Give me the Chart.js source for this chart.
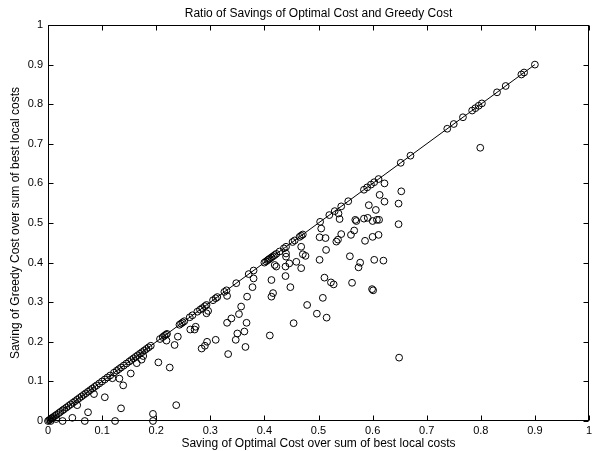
<!DOCTYPE html>
<html>
<head>
<meta charset="utf-8">
<script src="https://cdn.jsdelivr.net/npm/chart.js@4.4.1/dist/chart.umd.min.js"></script>
<style>
  html, body { margin: 0; padding: 0; background: #fff; }
  canvas { display: block; }
</style>
</head>
<body>
<canvas id="c" width="594" height="451"></canvas>
<script>
// ---- Data ----
const chartTitle = 'Ratio of Savings of Optimal Cost and Greedy Cost';
const xAxisTitle = 'Saving of Optimal Cost over sum of best local costs';
const yAxisTitle = 'Saving of Greedy Cost over sum of best local costs';
const xTickLabels = ['0','0.1','0.2','0.3','0.4','0.5','0.6','0.7','0.8','0.9','1'];
const yTickLabels = ['0','0.1','0.2','0.3','0.4','0.5','0.6','0.7','0.8','0.9','1'];

// reference line (greedy == optimal)
const lineX = [0, 0.9];
const lineY = [0, 0.9];

// points lying on the line
const onLineX = [0,0.002,0.004,0.006,0.008,0.01,0.013,0.016,0.02,0.023,0.027,0.03,0.034,0.038,0.042,0.046,0.05,0.054,0.058,0.062,0.066,0.07,0.074,0.078,0.082,0.086,0.09,0.095,0.1,0.105,0.11,0.115,0.122,0.127,0.131,0.135,0.14,0.145,0.15,0.154,0.158,0.162,0.166,0.17,0.174,0.178,0.182,0.186,0.19,0.207,0.212,0.215,0.218,0.22,0.243,0.246,0.249,0.252,0.262,0.267,0.276,0.281,0.285,0.29,0.293,0.305,0.31,0.313,0.326,0.33,0.348,0.371,0.38,0.4,0.403,0.406,0.408,0.41,0.413,0.416,0.419,0.422,0.428,0.436,0.44,0.452,0.456,0.465,0.468,0.471,0.503,0.52,0.53,0.542,0.555,0.584,0.59,0.597,0.603,0.611,0.652,0.67,0.738,0.75,0.767,0.784,0.79,0.796,0.802,0.83,0.846,0.875,0.88,0.9];
const onLineY = [0,0.002,0.004,0.006,0.008,0.01,0.013,0.016,0.02,0.023,0.027,0.03,0.034,0.038,0.042,0.046,0.05,0.054,0.058,0.062,0.066,0.07,0.074,0.078,0.082,0.086,0.09,0.095,0.1,0.105,0.11,0.115,0.122,0.127,0.131,0.135,0.14,0.145,0.15,0.154,0.158,0.162,0.166,0.17,0.174,0.178,0.182,0.186,0.19,0.207,0.212,0.215,0.218,0.22,0.243,0.246,0.249,0.252,0.262,0.267,0.276,0.281,0.285,0.29,0.293,0.305,0.31,0.313,0.326,0.33,0.348,0.371,0.38,0.4,0.403,0.406,0.408,0.41,0.413,0.416,0.419,0.422,0.428,0.436,0.44,0.452,0.456,0.465,0.468,0.471,0.503,0.52,0.53,0.542,0.555,0.584,0.59,0.597,0.603,0.611,0.652,0.67,0.738,0.75,0.767,0.784,0.79,0.796,0.802,0.83,0.846,0.875,0.88,0.9];

// points below the line
const belowX = [0.005,0.015,0.027,0.045,0.068,0.074,0.124,0.135,0.054,0.085,0.105,0.119,0.132,0.139,0.153,0.164,0.173,0.176,0.194,0.194,0.204,0.225,0.237,0.24,0.234,0.219,0.263,0.271,0.273,0.293,0.296,0.284,0.29,0.294,0.31,0.333,0.331,0.339,0.347,0.35,0.353,0.357,0.363,0.365,0.367,0.368,0.331,0.378,0.38,0.41,0.413,0.416,0.413,0.439,0.448,0.419,0.422,0.439,0.446,0.459,0.468,0.44,0.44,0.471,0.476,0.468,0.454,0.479,0.497,0.515,0.508,0.502,0.511,0.523,0.528,0.514,0.502,0.513,0.533,0.536,0.542,0.505,0.539,0.537,0.558,0.562,0.577,0.574,0.599,0.601,0.603,0.62,0.56,0.566,0.586,0.6,0.611,0.568,0.57,0.584,0.591,0.6,0.608,0.612,0.593,0.606,0.613,0.622,0.622,0.648,0.648,0.653,0.649,0.799];
const belowY = [0,0.005,0,0.008,0,0.022,0,0.032,0.04,0.068,0.06,0.108,0.107,0.09,0.12,0.146,0.155,0.164,0.018,0,0.148,0.135,0.04,0.213,0.192,0.203,0.231,0.231,0.238,0.272,0.278,0.183,0.19,0.2,0.205,0.169,0.248,0.259,0.205,0.221,0.27,0.289,0.226,0.187,0.248,0.314,0.316,0.338,0.36,0.216,0.314,0.323,0.356,0.366,0.338,0.394,0.39,0.39,0.398,0.402,0.386,0.415,0.423,0.421,0.417,0.44,0.247,0.293,0.271,0.261,0.311,0.407,0.362,0.35,0.345,0.432,0.464,0.462,0.453,0.458,0.472,0.486,0.51,0.524,0.416,0.349,0.4,0.388,0.333,0.33,0.407,0.405,0.47,0.481,0.455,0.465,0.47,0.508,0.505,0.511,0.513,0.505,0.508,0.508,0.545,0.533,0.571,0.554,0.6,0.549,0.497,0.58,0.16,0.69];

// ---- Chart ----
Chart.defaults.font.family = '"Liberation Sans", Arial, Helvetica, sans-serif';
Chart.defaults.color = '#000';

const toPts = (xs, ys) => xs.map((v, i) => ({ x: v, y: ys[i] }));

const boxPlugin = {
  id: 'matlabBox',
  afterDatasetsDraw(chart) {
    const { ctx, chartArea: a, scales } = chart;
    const L = Math.round(a.left) + 0.5, R = Math.round(a.right) - 0.5;
    const T = Math.round(a.top) + 0.5, B = Math.round(a.bottom) - 0.5;
    const tl = 5;
    ctx.save();
    ctx.strokeStyle = '#000';
    ctx.lineWidth = 1;
    ctx.strokeRect(L, T, R - L, B - T);
    ctx.beginPath();
    scales.x.ticks.forEach(t => {
      const p = Math.round(scales.x.getPixelForValue(t.value)) + 0.5;
      ctx.moveTo(p, B); ctx.lineTo(p, B - tl);
      ctx.moveTo(p, T); ctx.lineTo(p, T + tl);
    });
    scales.y.ticks.forEach(t => {
      const p = Math.round(scales.y.getPixelForValue(t.value)) + 0.5;
      ctx.moveTo(L, p); ctx.lineTo(L + tl, p);
      ctx.moveTo(R, p); ctx.lineTo(R - tl, p);
    });
    ctx.stroke();
    ctx.restore();
  }
};

const circleStyle = {
  pointStyle: 'circle',
  pointRadius: 3.4,
  pointBorderWidth: 1,
  pointBorderColor: '#000',
  pointBackgroundColor: 'rgba(0,0,0,0)',
  borderColor: '#000',
  backgroundColor: 'rgba(0,0,0,0)',
  clip: false
};

new Chart(document.getElementById('c'), {
  type: 'scatter',
  data: {
    datasets: [
      {
        type: 'line',
        data: toPts(lineX, lineY),
        borderColor: '#000',
        borderWidth: 1,
        pointRadius: 0,
        fill: false,
        clip: false
      },
      Object.assign({ data: toPts(onLineX, onLineY) }, circleStyle),
      Object.assign({ data: toPts(belowX, belowY) }, circleStyle)
    ]
  },
  options: {
    responsive: false,
    animation: false,
    devicePixelRatio: 1,
    layout: { padding: { left: 0, right: 2, top: 0, bottom: 0 } },
    plugins: {
      legend: { display: false },
      tooltip: { enabled: false },
      title: { display: false }
    },
    scales: {
      x: {
        type: 'linear', position: 'bottom', min: 0, max: 1,
        grid: { display: false, drawTicks: true, tickLength: 3.5 }, border: { display: false },
        ticks: {
          stepSize: 0.1, padding: 0, maxRotation: 0, autoSkip: false,
          font: { size: 11 },
          callback: v => xTickLabels[Math.round(v * 10)]
        },
        title: { display: true, text: xAxisTitle, font: { size: 12 }, padding: { top: 0, bottom: 0 } },
        afterFit: s => { s.height = 30; }
      },
      x2: {
        type: 'linear', position: 'top', min: 0, max: 1,
        grid: { display: false, drawTicks: false }, border: { display: false },
        ticks: { display: false, padding: 0 },
        title: { display: true, text: chartTitle, font: { size: 12 }, padding: { top: 6, bottom: 0 } },
        afterFit: s => { s.height = 25; }
      },
      y: {
        type: 'linear', position: 'left', min: 0, max: 1,
        grid: { display: false, drawTicks: true, tickLength: 5 }, border: { display: false },
        ticks: {
          stepSize: 0.1, padding: 0, autoSkip: false,
          font: { size: 11 },
          callback: v => yTickLabels[Math.round(v * 10)]
        },
        title: { display: true, text: yAxisTitle, font: { size: 12 }, padding: { top: 8, bottom: 0 } },
        afterFit: s => { s.width = 48; }
      }
    }
  },
  plugins: [boxPlugin]
});
</script>
</body>
</html>
